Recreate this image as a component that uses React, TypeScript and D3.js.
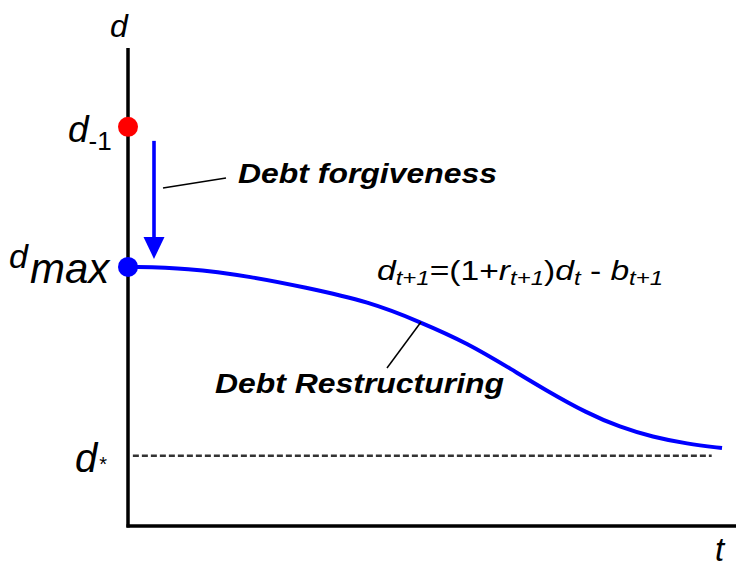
import React from "react";
import * as d3 from "d3";

// Conceptual debt path (t in 0..100, d in 0..100)
const pathT = [0, 9.7, 20.6, 28.8, 39.8, 48, 55.8, 63.3, 68.6, 75.5, 80.9, 86.3, 91.9, 97.7];
const pathD = [54.2, 54.0, 52.1, 50.0, 46.9, 42.7, 38.3, 32.6, 28.5, 23.6, 20.7, 18.6, 17.2, 16.3];
const levelNames = ["dPrev", "dMax", "dStar"];
const levelValues = [83.5, 54.2, 14.7];
const dashedRange = [0.8, 96];

const W = 737;
const H = 568;
const FONT = "'Liberation Sans', Arial, Helvetica, sans-serif";

export default function App() {
  const x = d3.scaleLinear().domain([0, 100]).range([128, 736]);
  const y = d3.scaleLinear().domain([0, 100]).range([526, 48]);
  const lvl = (n: string) => levelValues[levelNames.indexOf(n)];

  const pts: [number, number][] = pathT.map((t, i) => [t, pathD[i]]);
  const line = d3
    .line<[number, number]>()
    .x((d) => x(d[0]))
    .y((d) => y(d[1]))
    .curve(d3.curveBasis);

  const x0 = x(0);
  const yPrev = y(lvl("dPrev"));
  const yMax = y(lvl("dMax"));
  const yStar = y(lvl("dStar"));
  const arrowX = x0 + 26;
  const arrowTop = yPrev + 14;
  const arrowTip = yMax - 8;

  return (
    <svg width={W} height={H} style={{ position: "absolute", left: 0, top: 0 }} fontFamily={FONT}>
      <rect width={W} height={H} fill="#fff" />
      {/* axes */}
      <line x1={x0} y1={y(100)} x2={x0} y2={y(0) + 1.5} stroke="#000" strokeWidth={3.5} />
      <line x1={x0 - 1.5} y1={y(0)} x2={x(100)} y2={y(0)} stroke="#000" strokeWidth={3.5} />
      {/* d* dashed line */}
      <line
        x1={x(dashedRange[0])}
        x2={x(dashedRange[1])}
        y1={yStar}
        y2={yStar}
        stroke="#333"
        strokeWidth={2.6}
        strokeDasharray="6 3"
      />
      {/* path */}
      <path d={line(pts) || ""} fill="none" stroke="#0000ff" strokeWidth={4} />
      {/* arrow */}
      <line x1={arrowX} x2={arrowX} y1={arrowTop} y2={arrowTip - 20} stroke="#0000ff" strokeWidth={3.6} />
      <polygon
        points={`${arrowX - 10.5},${arrowTip - 22} ${arrowX + 10.5},${arrowTip - 22} ${arrowX},${arrowTip}`}
        fill="#0000ff"
      />
      {/* dots */}
      <circle cx={x0} cy={yPrev} r={10} fill="#ff0000" />
      <circle cx={x0} cy={yMax} r={10} fill="#0000ff" />
      {/* leader lines */}
      <line x1={163} y1={188} x2={226} y2={178} stroke="#000" strokeWidth={1.3} />
      <line x1={387} y1={368} x2={421} y2={322} stroke="#000" strokeWidth={1.5} />

      {/* axis labels */}
      <text x={110} y={37} fontSize={32} fontStyle="italic">d</text>
      <text x={715} y={561} fontSize={33} fontStyle="italic">t</text>

      {/* level labels */}
      <text x={68} y={yPrev + 15} fontSize={37}>
        <tspan fontStyle="italic">d</tspan>
        <tspan fontSize={26} dy={8}>-1</tspan>
      </text>
      <text x={9} y={yMax + 1} fontSize={34} fontStyle="italic">
        d
        <tspan x={30} y={yMax + 16} fontSize={42}>max</tspan>
      </text>
      <text x={75} y={yStar + 16} fontSize={40} fontStyle="italic">
        d<tspan fontSize={20} fontStyle="normal" dx={2} dy={-1}>*</tspan>
      </text>

      {/* formula */}
      <g transform={`translate(377,${yMax + 13}) scale(1.2,1)`}>
        <text x={0} y={0} fontSize={28}>
          <tspan fontStyle="italic">d</tspan>
          <tspan fontStyle="italic" fontSize={20} dy={5}>t+1</tspan>
          <tspan dy={-5}>=(1+</tspan>
          <tspan fontStyle="italic">r</tspan>
          <tspan fontStyle="italic" fontSize={20} dy={5}>t+1</tspan>
          <tspan dy={-5}>)</tspan>
          <tspan fontStyle="italic">d</tspan>
          <tspan fontStyle="italic" fontSize={20} dy={5}>t</tspan>
          <tspan dy={-5}> - </tspan>
          <tspan fontStyle="italic">b</tspan>
          <tspan fontStyle="italic" fontSize={20} dy={5}>t+1</tspan>
        </text>
      </g>

      {/* annotations */}
      <g transform="translate(238,183) scale(1.14,1)">
        <text fontSize={28} fontWeight="bold" fontStyle="italic">Debt forgiveness</text>
      </g>
      <g transform="translate(215,393) scale(1.14,1)">
        <text fontSize={28} fontWeight="bold" fontStyle="italic">Debt Restructuring</text>
      </g>
    </svg>
  );
}
